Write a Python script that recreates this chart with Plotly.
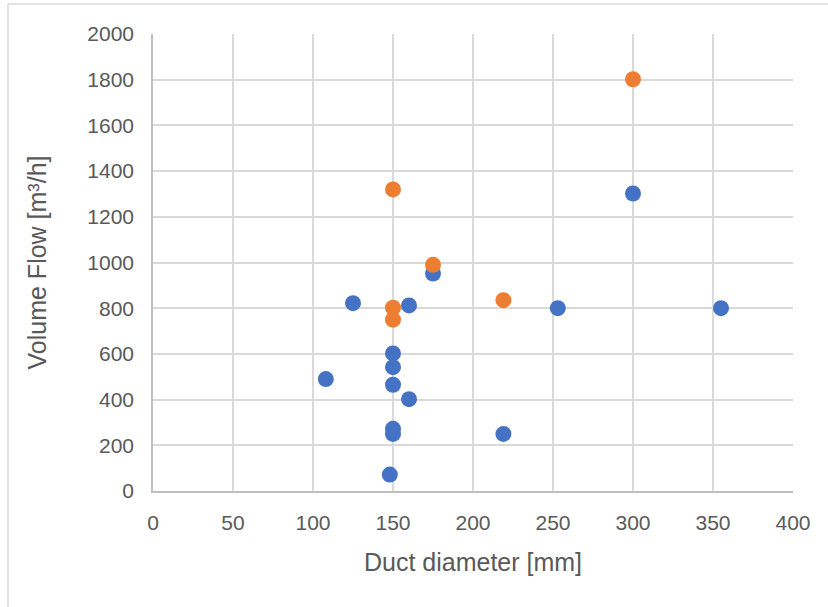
import plotly.graph_objects as go

blue_x = [108, 125, 160, 175, 150, 150, 150, 160, 150, 150, 219, 148, 300, 253, 355]
blue_y = [490, 822, 812, 952, 602, 542, 465, 402, 272, 250, 250, 72, 1302, 800, 800]
orange_x = [150, 150, 175, 219, 150, 300]
orange_y = [802, 750, 990, 835, 1320, 1802]

x_ticks = [0, 50, 100, 150, 200, 250, 300, 350, 400]
y_ticks = [0, 200, 400, 600, 800, 1000, 1200, 1400, 1600, 1800, 2000]

W, H = 828, 607
L, R, T, B = 153, 35, 34, 116
pw, ph = W - L - R, H - T - B

fig = go.Figure()
fig.add_trace(go.Scatter(x=blue_x, y=blue_y, mode="markers",
                         marker=dict(color="#4472C4", size=16), showlegend=False))
fig.add_trace(go.Scatter(x=orange_x, y=orange_y, mode="markers",
                         marker=dict(color="#ED7D31", size=16), showlegend=False))

fig.update_layout(
    width=W, height=H,
    margin=dict(l=L, r=R, t=T, b=B),
    paper_bgcolor="white", plot_bgcolor="white",
    font=dict(family="Liberation Sans, Arial", color="#595959", size=21),
    xaxis=dict(range=[0, 400], tickvals=x_ticks, showgrid=True, gridcolor="#D9D9D9",
               gridwidth=1.5, showline=True, linecolor="#BFBFBF", linewidth=1.5,
               zeroline=False, ticks="", ticklabelstandoff=12,
               tickfont=dict(size=21),
               title=dict(text="Duct diameter [mm]", font=dict(size=25), standoff=21)),
    yaxis=dict(range=[0, 2000], tickvals=y_ticks, showgrid=True, gridcolor="#D9D9D9",
               gridwidth=1.5, showline=True, linecolor="#BFBFBF", linewidth=1.5,
               zeroline=False, ticks="", ticklabelstandoff=13,
               tickfont=dict(size=21),
               title=dict(text="Volume Flow [m³/h]", font=dict(size=25), standoff=34)),
)

# chart-area border (left and top edges visible)
x_left = (8 - L) / pw
y_top = (H - B - 4) / ph
fig.add_shape(type="line", xref="paper", yref="paper", x0=x_left, x1=x_left,
              y0=-1, y1=y_top, line=dict(color="#D9D9D9", width=1.5))
fig.add_shape(type="line", xref="paper", yref="paper", x0=x_left, x1=2,
              y0=y_top, y1=y_top, line=dict(color="#D9D9D9", width=1.5))

fig.write_html("out.html")
